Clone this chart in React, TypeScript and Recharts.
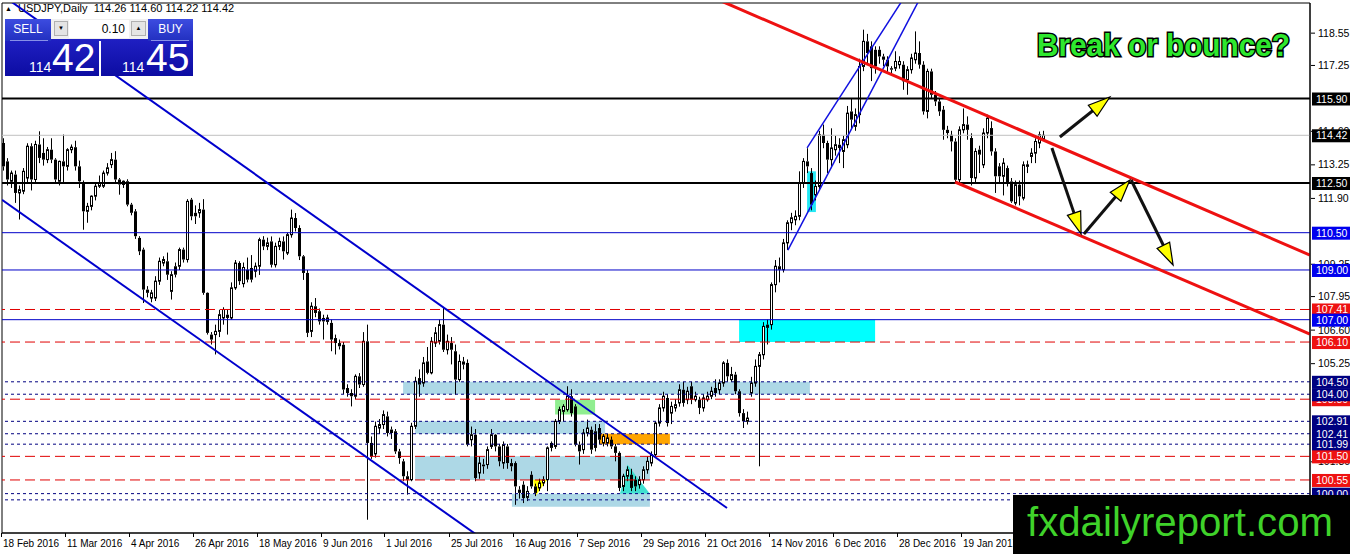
import React from 'react';
import { ComposedChart, Bar, XAxis, YAxis, ReferenceLine, ReferenceArea } from 'recharts';

// ---------- DATA ----------
// Daily USDJPY candles [open, high, low, close], 18 Feb 2016 .. 16 Feb 2017
const ohlc: [number, number, number, number][] = [
  [114.11, 114.3, 113.0, 113.17], [113.37, 113.5, 112.4, 112.64], [112.57, 113.0, 112.3, 112.9], [112.84, 113.0, 111.7, 112.1],
  [112.1, 112.4, 111.03, 112.23], [112.17, 113.1, 112.05, 112.97], [112.7, 114.1, 112.5, 113.98], [113.98, 114.1, 112.2, 112.64],
  [112.64, 114.2, 112.5, 114.05], [114.05, 114.58, 113.3, 113.51], [113.71, 114.3, 113.2, 113.44], [113.44, 113.95, 113.3, 113.84],
  [113.84, 114.3, 113.3, 113.44], [113.44, 113.5, 112.5, 112.64], [112.57, 113.4, 112.4, 113.37], [113.37, 114.45, 112.5, 113.17],
  [113.17, 113.9, 113.0, 113.84], [113.84, 114.05, 113.7, 113.94], [113.94, 114.2, 113.0, 113.17], [113.17, 113.4, 112.3, 112.57],
  [112.5, 112.6, 110.62, 111.36], [111.36, 111.7, 110.9, 111.56], [111.56, 112.0, 111.4, 111.97], [111.97, 112.5, 111.8, 112.37],
  [112.37, 112.8, 112.3, 112.5], [112.37, 113.0, 112.3, 112.9], [112.9, 113.3, 112.8, 113.11], [113.24, 113.71, 113.1, 113.44],
  [113.44, 113.78, 112.5, 112.64], [112.64, 112.7, 112.03, 112.44], [112.44, 112.6, 112.3, 112.57], [112.57, 112.65, 111.56, 111.63],
  [111.63, 111.7, 111.2, 111.3], [111.36, 111.45, 110.25, 110.36], [110.29, 110.36, 109.6, 109.75], [109.82, 109.9, 107.67, 108.21],
  [108.21, 108.35, 107.9, 108.08], [107.87, 108.2, 107.7, 108.08], [107.87, 108.75, 107.75, 108.55], [108.55, 109.5, 108.4, 109.35],
  [109.28, 109.55, 109.15, 109.42], [109.35, 109.7, 108.6, 108.81], [108.14, 108.95, 107.81, 108.81], [109.15, 109.3, 108.7, 108.81],
  [109.15, 109.9, 109.0, 109.82], [109.82, 109.9, 109.3, 109.42], [109.42, 111.85, 109.3, 111.76], [111.83, 111.9, 111.0, 111.16],
  [111.3, 111.6, 110.85, 111.16], [111.3, 111.7, 111.1, 111.43], [111.43, 111.85, 108.0, 108.08], [108.08, 108.1, 106.4, 106.47],
  [106.4, 106.5, 106.0, 106.2], [106.4, 106.8, 105.6, 106.53], [106.53, 107.4, 106.3, 107.2], [107.07, 107.5, 106.8, 107.41],
  [107.2, 107.4, 106.4, 107.07], [107.07, 108.5, 107.0, 108.28], [108.28, 109.4, 108.2, 109.28], [109.28, 109.35, 108.4, 108.55],
  [108.45, 109.3, 108.3, 109.1], [109.01, 109.5, 108.5, 108.61], [109.08, 109.6, 108.5, 108.61], [108.95, 109.3, 108.7, 109.15],
  [109.15, 110.3, 108.8, 110.22], [110.22, 110.36, 109.8, 109.95], [109.95, 110.3, 109.8, 110.09], [110.15, 110.35, 109.1, 109.21],
  [109.21, 110.1, 109.1, 109.95], [109.95, 110.3, 109.8, 110.15], [110.15, 110.35, 109.42, 109.75], [109.68, 110.5, 109.6, 110.42],
  [110.42, 111.43, 110.3, 111.09], [111.09, 111.29, 110.55, 110.69], [110.69, 110.8, 109.4, 109.55], [109.55, 109.6, 108.6, 108.88],
  [108.88, 109.0, 106.3, 106.47], [106.53, 107.7, 106.3, 107.54], [107.54, 107.87, 107.1, 107.27], [107.34, 107.45, 106.8, 106.93],
  [107.07, 107.2, 106.2, 106.93], [106.93, 107.2, 106.8, 107.07], [106.87, 107.0, 105.73, 106.2], [106.26, 106.4, 105.6, 106.06],
  [106.06, 106.2, 105.8, 105.93], [105.99, 106.1, 104.0, 104.19], [104.25, 104.4, 103.9, 104.05], [104.05, 104.2, 103.51, 103.92],
  [103.92, 104.8, 103.8, 104.72], [104.72, 104.85, 104.25, 104.39], [104.39, 106.5, 104.3, 106.13], [106.13, 106.8, 98.95, 102.04],
  [102.04, 102.3, 101.4, 101.5], [101.6, 102.9, 101.45, 102.71], [102.64, 103.0, 102.4, 102.78], [102.78, 103.35, 102.6, 103.18],
  [103.11, 103.3, 102.3, 102.44], [102.58, 102.7, 102.2, 102.44], [102.51, 102.6, 101.6, 101.7], [101.7, 101.8, 101.2, 101.43],
  [101.3, 101.4, 100.5, 100.7], [100.7, 100.9, 99.96, 100.56], [100.56, 102.85, 100.5, 102.71], [102.71, 104.7, 102.6, 104.52],
  [104.65, 105.0, 103.9, 104.39], [104.45, 105.5, 104.3, 105.26], [105.32, 105.9, 104.8, 104.86], [104.86, 106.3, 104.8, 106.13],
  [106.06, 106.7, 105.9, 106.47], [106.13, 107.0, 106.0, 106.8], [106.8, 107.47, 105.7, 105.79], [105.79, 106.4, 105.6, 106.13],
  [106.06, 106.3, 105.2, 105.79], [105.73, 106.0, 103.98, 104.59], [104.59, 105.6, 104.5, 105.32], [105.32, 105.5, 105.0, 105.19],
  [105.26, 105.4, 101.9, 101.97], [102.17, 102.7, 101.9, 102.37], [102.37, 102.6, 100.5, 100.63], [100.83, 101.5, 100.6, 101.23],
  [101.17, 101.4, 100.8, 101.1], [101.17, 101.9, 101.0, 101.77], [101.9, 102.6, 101.8, 102.37], [102.37, 102.4, 101.7, 101.9],
  [101.9, 102.0, 101.1, 101.3], [101.23, 102.1, 101.0, 101.97], [101.9, 102.0, 101.0, 101.23], [101.23, 101.4, 100.9, 101.1],
  [101.23, 101.3, 99.55, 100.29], [100.16, 100.3, 99.8, 100.03], [100.36, 100.5, 99.62, 99.82], [99.85, 100.3, 99.7, 100.09],
  [100.76, 100.9, 100.2, 100.29], [100.29, 100.4, 99.9, 100.03], [100.23, 100.6, 100.1, 100.43], [100.43, 100.7, 100.3, 100.56],
  [100.56, 101.9, 100.1, 101.84], [102.04, 102.1, 101.7, 101.84], [101.9, 103.0, 101.8, 102.91], [102.91, 103.5, 102.8, 103.38],
  [103.31, 103.6, 102.9, 103.51], [103.38, 104.32, 103.3, 103.92], [103.92, 104.2, 103.1, 103.24], [103.51, 103.6, 101.9, 101.97],
  [101.97, 102.1, 101.17, 101.7], [101.77, 102.6, 101.6, 102.44], [102.44, 102.98, 102.3, 102.64], [102.57, 102.7, 101.6, 101.77],
  [102.51, 102.8, 101.7, 101.84], [102.64, 102.8, 102.0, 102.17], [102.04, 102.4, 101.9, 102.31], [102.04, 102.4, 101.9, 102.24],
  [102.17, 102.3, 101.8, 101.9], [101.9, 102.0, 101.3, 101.64], [101.64, 101.7, 100.1, 100.23], [100.29, 100.8, 100.1, 100.7],
  [100.7, 101.1, 100.5, 100.96], [100.76, 101.0, 100.1, 100.23], [100.56, 100.7, 100.1, 100.29], [100.36, 100.7, 100.2, 100.56],
  [100.56, 101.1, 100.4, 100.96], [100.96, 101.5, 100.8, 101.3], [101.23, 101.7, 101.1, 101.57], [101.57, 102.9, 101.5, 102.84],
  [102.84, 103.6, 102.7, 103.45], [103.45, 104.1, 103.3, 103.92], [103.85, 104.0, 102.7, 102.84], [103.24, 103.7, 102.8, 103.51],
  [103.45, 103.8, 103.3, 103.58], [103.65, 104.4, 103.5, 104.18], [104.18, 104.5, 103.5, 103.65], [103.78, 104.3, 103.6, 104.12],
  [104.32, 104.5, 103.6, 103.78], [103.78, 104.1, 103.7, 103.92], [103.78, 103.9, 103.2, 103.45], [103.45, 104.0, 103.3, 103.85],
  [103.78, 104.1, 103.7, 103.92], [103.92, 104.3, 103.8, 104.12], [104.25, 104.6, 103.9, 104.05], [104.18, 104.6, 104.0, 104.45],
  [104.45, 105.33, 104.3, 105.26], [105.26, 105.4, 104.5, 104.72], [104.59, 105.1, 104.5, 104.79], [104.79, 104.9, 104.0, 104.12],
  [104.12, 104.2, 103.1, 103.24], [103.24, 103.4, 102.64, 102.91], [102.91, 103.3, 102.78, 103.04], [104.05, 104.7, 103.9, 104.45],
  [104.45, 105.4, 104.3, 105.12], [105.12, 105.7, 101.1, 105.59], [105.59, 106.9, 105.4, 106.73], [106.8, 107.0, 106.0, 106.67],
  [106.8, 108.5, 106.6, 108.41], [108.41, 109.4, 108.1, 109.15], [109.15, 109.5, 108.5, 109.01], [109.01, 110.25, 108.9, 110.09],
  [110.09, 111.0, 109.8, 110.9], [110.9, 111.3, 110.6, 111.1], [111.02, 111.4, 110.8, 111.16], [111.16, 112.97, 111.0, 112.5],
  [112.5, 113.5, 112.3, 113.37], [113.37, 113.9, 112.9, 113.17], [112.9, 113.1, 111.4, 111.63], [112.03, 112.6, 111.8, 112.36],
  [112.36, 114.6, 112.2, 114.44], [114.44, 114.85, 113.9, 114.11], [114.11, 114.2, 112.9, 113.44], [113.44, 114.7, 113.1, 113.91],
  [113.84, 114.4, 113.6, 114.04], [114.04, 114.3, 113.3, 113.91], [113.77, 114.4, 113.1, 114.24], [114.04, 115.6, 113.9, 115.31],
  [115.38, 115.9, 114.7, 115.05], [114.78, 115.5, 114.6, 115.25], [115.25, 117.5, 114.9, 117.19], [117.19, 118.67, 117.0, 118.2],
  [118.2, 118.5, 117.3, 117.73], [118.0, 118.2, 116.6, 117.12], [117.86, 118.0, 116.9, 117.19], [117.86, 118.0, 117.3, 117.59],
  [117.59, 117.7, 117.2, 117.46], [117.46, 117.6, 116.9, 117.19], [117.12, 117.2, 116.9, 117.06], [117.12, 117.8, 117.0, 117.39],
  [117.26, 117.6, 117.1, 117.39], [117.26, 117.4, 116.25, 116.59], [116.66, 117.2, 116.05, 117.06], [117.06, 117.7, 116.9, 117.53],
  [117.46, 118.6, 117.3, 117.73], [117.73, 118.2, 117.1, 117.26], [117.26, 117.4, 115.25, 115.38], [115.38, 117.1, 115.1, 116.99],
  [116.99, 117.1, 115.9, 116.05], [116.05, 116.2, 115.6, 115.78], [115.78, 115.9, 115.2, 115.38], [115.45, 115.6, 114.24, 114.64],
  [114.64, 114.8, 114.3, 114.51], [114.44, 114.6, 113.77, 114.17], [114.17, 114.3, 112.5, 112.63], [112.63, 114.78, 112.5, 114.64],
  [114.64, 115.5, 114.5, 114.85], [114.85, 115.18, 114.24, 114.64], [114.31, 114.5, 112.4, 112.7], [112.7, 113.9, 112.5, 113.77],
  [113.84, 114.0, 112.9, 113.64], [113.23, 114.7, 113.1, 114.51], [114.51, 115.25, 114.3, 115.11], [114.71, 114.98, 113.6, 113.77],
  [113.77, 113.9, 112.1, 112.77], [113.17, 113.3, 112.5, 112.77], [112.77, 113.5, 112.0, 113.3], [113.1, 113.2, 112.36, 112.5],
  [112.56, 112.7, 111.7, 111.76], [111.69, 112.6, 111.6, 112.43], [112.43, 112.6, 111.6, 111.96], [111.89, 113.37, 111.8, 113.23],
  [113.17, 113.4, 112.9, 113.23], [113.57, 113.9, 113.3, 113.7], [113.7, 114.3, 113.3, 114.17], [114.11, 114.57, 113.9, 114.44],
  [114.26, 114.6, 114.22, 114.42],
];

const xTickIndex = [0, 16, 32, 48, 64, 80, 96, 112, 128, 144, 160, 176, 192, 208, 224, 240];
const xTickLabels = [
  '18 Feb 2016', '11 Mar 2016', '4 Apr 2016', '26 Apr 2016', '18 May 2016', '9 Jun 2016', '1 Jul 2016', '25 Jul 2016',
  '16 Aug 2016', '7 Sep 2016', '29 Sep 2016', '21 Oct 2016', '14 Nov 2016', '6 Dec 2016', '28 Dec 2016', '19 Jan 2017',
];

const plainTicks = [118.55, 117.25, 114.6, 113.25, 111.9, 109.25, 107.95, 106.6, 105.25, 101.3];
const blackLevels = [115.9, 112.5];
const currentPrice = [114.42];
const blueLevels = [110.5, 109.0, 107.0];
const redLevels = [107.41, 106.1, 103.8, 101.5, 100.55];
const dottedLevels = [104.5, 104.0, 102.91, 102.41, 101.99, 100.0, 99.75];
const labelOrder = [115.9, 114.42, 112.5, 110.5, 109.0, 107.41, 107.0, 106.1, 104.5, 103.8, 104.0, 102.91, 102.41, 101.99, 101.5, 100.55, 100.0];

// trend lines: [[barIndex, price], [barIndex, price]]
const blueDownLines: [number, number][][] = [
  [[-0.375, 120.06], [180.875, 99.42]],
  [[-0.375, 111.82], [120, 98.15]],
];
const blueUpLines: [number, number][][] = [
  [[196.1, 109.8], [232, 120.81]],
  [[200.9, 113.91], [228, 120.67]],
];
const redLines: [number, number][][] = [
  [[178, 119.92], [326.6, 109.6]],
  [[237.9, 112.54], [326.6, 106.42]],
];
const arrows: [number, number][][] = [
  [[264.1, 114.35], [276.6, 115.96]],
  [[262.1, 113.91], [269.4, 110.45]],
  [[270.1, 110.45], [281.6, 112.62]],
  [[281.9, 112.62], [292.4, 109.2]],
];
// zones: [x1, x2, y1, y2, color]
const zones: [number, number, number, number, string][] = [
  [99.9, 201.6, 104.0, 104.5, '#add8e6'],
  [102.9, 150.4, 102.41, 102.91, '#add8e6'],
  [102.9, 161.6, 100.55, 101.5, '#add8e6'],
  [127.1, 161.6, 99.47, 100.0, '#add8e6'],
  [137.9, 147.9, 103.18, 103.78, '#90ee90'],
  [149.1, 166.6, 101.99, 102.41, '#ffa500'],
  [183.9, 217.9, 106.1, 107.0, '#00ffff'],
  [200.9, 203.1, 111.33, 112.97, '#22e8f4'],
];
const yellowTriangle = [132.4, 135.9, 99.88, 100.56];
const tealTriangle = [154.1, 161.6, 100.0, 101.17];

const X_DOMAIN: [number, number] = [-0.375, 326.625];
const Y_DOMAIN: [number, number] = [98.416, 119.743];

const data = ohlc.map(([o, h, l, c], i) => ({ i, o, h, l, c, range: [l, h] }));

const FONT = 'Liberation Sans, Arial, sans-serif';

// ---------- SHAPES ----------
function Candle(props: any) {
  const { x, y, width, height, payload } = props;
  if (!payload || height == null || isNaN(y)) return null;
  const { o, h, l, c } = payload;
  const cx = Math.round(x + width / 2 - 0.5) + 0.5;
  const span = h - l || 1e-6;
  const py = (p: number) => y + ((h - p) / span) * height;
  const yHi = y;
  const yLo = y + height;
  const yTop = py(Math.max(o, c));
  const yBot = py(Math.min(o, c));
  const bull = c >= o;
  return (
    <g>
      <line x1={cx} x2={cx} y1={yHi} y2={yTop} stroke="#000" strokeWidth={1} />
      <line x1={cx} x2={cx} y1={yBot} y2={yLo} stroke="#000" strokeWidth={1} />
      {bull ? (
        <rect x={cx - 1} y={yTop} width={2} height={Math.max(yBot - yTop, 1)} fill="#fff" stroke="#000" strokeWidth={1} />
      ) : (
        <rect x={cx - 1.5} y={yTop} width={3} height={Math.max(yBot - yTop, 1)} fill="#000" />
      )}
    </g>
  );
}

function ArrowShape(props: any) {
  const { x1, y1, x2, y2 } = props;
  if ([x1, y1, x2, y2].some((v) => v == null || isNaN(v))) return null;
  const dx = x2 - x1;
  const dy = y2 - y1;
  const len = Math.sqrt(dx * dx + dy * dy) || 1;
  const ux = dx / len;
  const uy = dy / len;
  const hl = 22;
  const hw = 7;
  const bx = x2 - ux * hl;
  const by = y2 - uy * hl;
  const pts = `${x2},${y2} ${bx - uy * hw},${by + ux * hw} ${bx + uy * hw},${by - ux * hw}`;
  return (
    <g>
      <line x1={x1} y1={y1} x2={bx} y2={by} stroke="#111" strokeWidth={3} />
      <polygon points={pts} fill="#ffff00" stroke="#000" strokeWidth={1.2} />
    </g>
  );
}

function YellowTri(props: any) {
  const { x, y, width, height } = props;
  return <polygon points={`${x},${y} ${x + width},${y} ${x + width * 0.15},${y + height}`} fill="#ffff00" />;
}
function TealTri(props: any) {
  const { x, y, width, height } = props;
  return <polygon points={`${x},${y + height} ${x + width},${y + height} ${x + width * 0.25},${y}`} fill="#40e0d0" />;
}

function labelColor(v: number): string | null {
  if (blackLevels.includes(v) || currentPrice.includes(v)) return '#000';
  if (blueLevels.includes(v)) return '#0000ee';
  if (redLevels.includes(v)) return '#ee1111';
  if (dottedLevels.includes(v)) return '#000080';
  return null;
}

function YTick(props: any) {
  const { x, y, payload } = props;
  const v = payload.value as number;
  const col = labelColor(v);
  const txt = v.toFixed(2);
  if (col) {
    return (
      <g>
        <rect x={x + 2} y={y - 6} width={40} height={13} fill={col} />
        <text x={x + 6} y={y + 4} fill="#fff" fontSize={10.5} fontFamily={FONT}>{txt}</text>
      </g>
    );
  }
  return (
    <g>
      <line x1={x + 1} x2={x + 5} y1={y + 0.5} y2={y + 0.5} stroke="#000" />
      <text x={x + 8} y={y + 4} fill="#000" fontSize={10.5} fontFamily={FONT}>{txt}</text>
    </g>
  );
}

function XTick(props: any) {
  const { x, y, payload } = props;
  const k = xTickIndex.indexOf(payload.value);
  const label = k >= 0 ? xTickLabels[k] : '';
  const px = Math.round(x) - 2.5;
  return (
    <g>
      <line x1={px} x2={px} y1={y} y2={y + 4} stroke="#000" />
      <text x={px + 1.5} y={y + 14} fill="#000" fontSize={10} fontFamily={FONT}>{label}</text>
    </g>
  );
}

// ---------- APP ----------
export default function App() {
  return (
    <div style={{ position: 'absolute', left: 0, top: 0, width: 1350, height: 554, background: '#fff', overflow: 'hidden', fontFamily: FONT }}>
      <div style={{ position: 'absolute', left: 5, top: 2, fontSize: 11, color: '#000', whiteSpace: 'nowrap', lineHeight: '13px' }}>
        <span style={{ fontSize: 7, position: 'relative', top: -1 }}>▲</span>&nbsp;&nbsp;USDJPY,Daily&nbsp;&nbsp;114.26 114.60 114.22 114.42
      </div>
      <div style={{ position: 'absolute', left: 0, top: 0 }}>
        <ComposedChart width={1350} height={554} data={data} margin={{ top: 3, right: 0, bottom: 0, left: 2 }}>
          <XAxis dataKey="i" type="number" domain={X_DOMAIN} allowDataOverflow ticks={xTickIndex} interval={0}
            height={21} tickLine={false} tickSize={0} tickMargin={0} axisLine={{ stroke: '#000' }} tick={<XTick />} />
          <YAxis orientation="right" type="number" domain={Y_DOMAIN} allowDataOverflow width={40}
            ticks={[...plainTicks, ...labelOrder]} interval={0} tickLine={false} tickSize={0} tickMargin={0}
            axisLine={{ stroke: '#000' }} tick={<YTick />} />
          {zones.map(([a, b, c, d, col], k) => (
            <ReferenceArea key={'z' + k} x1={a} x2={b} y1={c} y2={d} fill={col} fillOpacity={1} stroke="none" ifOverflow="hidden" />
          ))}
          <ReferenceArea x1={yellowTriangle[0]} x2={yellowTriangle[1]} y1={yellowTriangle[2]} y2={yellowTriangle[3]} shape={<YellowTri />} ifOverflow="hidden" />
          <ReferenceArea x1={tealTriangle[0]} x2={tealTriangle[1]} y1={tealTriangle[2]} y2={tealTriangle[3]} shape={<TealTri />} ifOverflow="hidden" />
          {dottedLevels.map((v) => (
            <ReferenceLine key={'d' + v} y={v} stroke="#000080" strokeWidth={1} strokeDasharray="3 3" ifOverflow="hidden" />
          ))}
          {redLevels.map((v) => (
            <ReferenceLine key={'r' + v} y={v} stroke="#e00000" strokeWidth={1} strokeDasharray="10 5" ifOverflow="hidden" />
          ))}
          {blueLevels.map((v) => (
            <ReferenceLine key={'b' + v} y={v} stroke="#0000c8" strokeWidth={1} ifOverflow="hidden" />
          ))}
          {currentPrice.map((v) => (
            <ReferenceLine key={'c' + v} y={v} stroke="#c0c0c0" strokeWidth={1} ifOverflow="hidden" />
          ))}
          {blackLevels.map((v) => (
            <ReferenceLine key={'k' + v} y={v} stroke="#000" strokeWidth={2} ifOverflow="hidden" />
          ))}
          <Bar dataKey="range" barSize={3} shape={<Candle />} isAnimationActive={false} />
          {blueDownLines.map((s, k) => (
            <ReferenceLine key={'bd' + k} segment={[{ x: s[0][0], y: s[0][1] }, { x: s[1][0], y: s[1][1] }]} stroke="#0000cd" strokeWidth={2} ifOverflow="hidden" />
          ))}
          {blueUpLines.map((s, k) => (
            <ReferenceLine key={'bu' + k} segment={[{ x: s[0][0], y: s[0][1] }, { x: s[1][0], y: s[1][1] }]} stroke="#1010e0" strokeWidth={1.5} ifOverflow="hidden" />
          ))}
          {redLines.map((s, k) => (
            <ReferenceLine key={'rl' + k} segment={[{ x: s[0][0], y: s[0][1] }, { x: s[1][0], y: s[1][1] }]} stroke="#ee1111" strokeWidth={3} ifOverflow="hidden" />
          ))}
          {arrows.map((s, k) => (
            <ReferenceLine key={'ar' + k} segment={[{ x: s[0][0], y: s[0][1] }, { x: s[1][0], y: s[1][1] }]} shape={<ArrowShape />} ifOverflow="visible" />
          ))}
          <ReferenceArea x1={X_DOMAIN[0]} x2={X_DOMAIN[1]} y1={Y_DOMAIN[0]} y2={Y_DOMAIN[1]} fill="none" stroke="#000" strokeWidth={1} ifOverflow="visible" />
        </ComposedChart>
      </div>

      {/* one-click trading panel */}
      <div style={{ position: 'absolute', left: 5, top: 19, width: 188, height: 57, background: 'linear-gradient(#2a2ad4, #0c0ca2)' }} />
      <div style={{ position: 'absolute', left: 5, top: 19, width: 46, height: 22, background: 'linear-gradient(#3c4ce0, #2230c0)', color: '#fff', fontSize: 12, textAlign: 'center', lineHeight: '21px' }}>SELL</div>
      <div style={{ position: 'absolute', left: 148, top: 19, width: 45, height: 22, background: 'linear-gradient(#3c4ce0, #2230c0)', color: '#fff', fontSize: 12, textAlign: 'center', lineHeight: '21px' }}>BUY</div>
      <div style={{ position: 'absolute', left: 10, top: 40, width: 38, height: 1, background: '#8890e8' }} />
      <div style={{ position: 'absolute', left: 151, top: 40, width: 38, height: 1, background: '#8890e8' }} />
      <div style={{ position: 'absolute', left: 51, top: 19, width: 97, height: 20, background: '#f0f0f0' }} />
      <div style={{ position: 'absolute', left: 54, top: 21, width: 14, height: 15, background: '#e4e4e4', border: '1px solid #b0b0b0', boxSizing: 'border-box', fontSize: 6, textAlign: 'center', lineHeight: '13px' }}>▼</div>
      <div style={{ position: 'absolute', left: 69, top: 20, width: 60, height: 18, background: '#fff', fontSize: 12, textAlign: 'right', lineHeight: '18px', paddingRight: 4, boxSizing: 'border-box' }}>0.10</div>
      <div style={{ position: 'absolute', left: 131, top: 21, width: 15, height: 15, background: '#e4e4e4', border: '1px solid #b0b0b0', boxSizing: 'border-box', fontSize: 6, textAlign: 'center', lineHeight: '13px' }}>▲</div>
      <div style={{ position: 'absolute', left: 99, top: 41, width: 2, height: 35, background: '#fff' }} />
      <div style={{ position: 'absolute', left: 29, top: 60, fontSize: 14, color: '#fff', lineHeight: '14px' }}>114</div>
      <div style={{ position: 'absolute', left: 52, top: 38, fontSize: 39, color: '#fff', lineHeight: '39px' }}>42</div>
      <div style={{ position: 'absolute', left: 122, top: 60, fontSize: 14, color: '#fff', lineHeight: '14px' }}>114</div>
      <div style={{ position: 'absolute', left: 146, top: 38, fontSize: 39, color: '#fff', lineHeight: '39px' }}>45</div>

      <svg width={1350} height={554} style={{ position: 'absolute', left: 0, top: 0, pointerEvents: 'none' }}>
        <text x={1037} y={56} fontSize={31} fontWeight="bold" fontFamily={FONT} fill="#2ee82e" stroke="#000" strokeWidth={3}
          paintOrder="stroke" textLength={253} lengthAdjust="spacingAndGlyphs">Break or bounce?</text>
        <rect x={1013} y={495} width={337} height={59} fill="#000" />
        <text x={1027} y={536} fontSize={40} fontFamily={FONT} fill="#3fd22a" textLength={306} lengthAdjust="spacingAndGlyphs">fxdailyreport.com</text>
      </svg>
    </div>
  );
}
